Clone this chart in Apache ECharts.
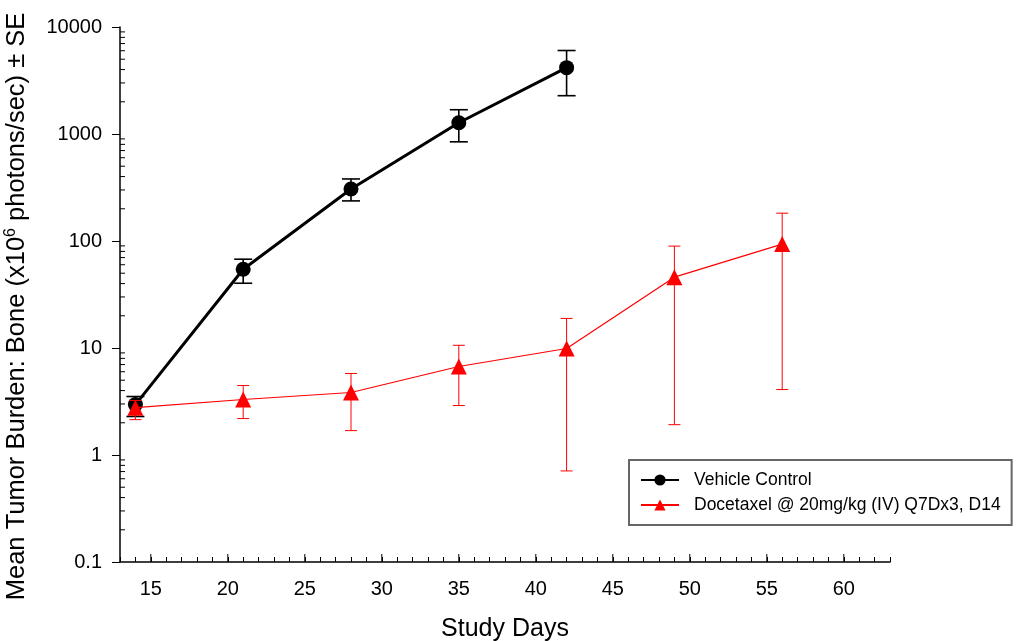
<!DOCTYPE html>
<html>
<head>
<meta charset="utf-8">
<script src="https://cdn.jsdelivr.net/npm/echarts@6/dist/echarts.min.js"></script>
<style>html,body{margin:0;padding:0;background:#fff}#c{width:1024px;height:641px}</style>
</head>
<body>
<div id="c"></div>
<script>
// ---- data ----
const days = [14, 21, 28, 35, 42, 49, 56];
const vehicleMean = [2.96, 54.5, 306, 1273, 4170];
const vehicleLow  = [2.29, 40.3, 237, 845, 2280];
const vehicleHigh = [3.52, 67.6, 380, 1686, 6030];
const doceMean = [2.77, 3.30, 3.84, 6.72, 9.9, 45.9, 93.5];
const doceLow  = [2.14, 2.19, 1.69, 2.90, 0.71, 1.92, 4.09];
const doceHigh = [3.23, 4.46, 5.78, 10.6, 18.9, 89.6, 182];
const yTickLabels = ['0.1', '1', '10', '100', '1000', '10000'];
const xMajorTicks = [15, 20, 25, 30, 35, 40, 45, 50, 55, 60];
const yDecades = [0.1, 1, 10, 100, 1000];
const yMinorMult = [2, 3, 4, 5, 6, 7, 8, 9];
const seriesNames = ['Vehicle Control', 'Docetaxel @ 20mg/kg (IV) Q7Dx3, D14'];

const FONT = '"Liberation Sans", Arial, sans-serif';

function pairs(xs, ys) { return ys.map((v, i) => [xs[i], v]); }
function errData(xs, lo, hi) { return lo.map((v, i) => [xs[i], v, hi[i]]); }

function errRenderer(color, capHalf, lw) {
  return function (params, api) {
    const x = api.value(0);
    const lo = api.coord([x, api.value(1)]);
    const hi = api.coord([x, api.value(2)]);
    const st = { stroke: color, lineWidth: lw };
    return {
      type: 'group',
      children: [
        { type: 'line', shape: { x1: lo[0], y1: lo[1], x2: hi[0], y2: hi[1] }, style: st },
        { type: 'line', shape: { x1: lo[0] - capHalf, y1: lo[1], x2: lo[0] + capHalf, y2: lo[1] }, style: st },
        { type: 'line', shape: { x1: hi[0] - capHalf, y1: hi[1], x2: hi[0] + capHalf, y2: hi[1] }, style: st }
      ]
    };
  };
}

// minor y ticks (log 2..9) drawn inward from the axis
const yMinorVals = [];
yDecades.forEach(d => yMinorMult.forEach(m => yMinorVals.push([13, +(d * m).toPrecision(3)])));
const xMajorVals = xMajorTicks.map(v => [v, 0.1]);

const chart = echarts.init(document.getElementById('c'), null, { renderer: 'canvas' });
chart.setOption({
  animation: false,
  backgroundColor: '#fff',
  grid: { left: 120, top: 27, width: 770, height: 535, containLabel: false, outerBoundsMode: 'none' },
  xAxis: {
    type: 'value', min: 13, max: 63, interval: 1,
    name: 'Study Days', nameLocation: 'middle', nameGap: 55,
    nameTextStyle: { fontFamily: FONT, fontSize: 25, color: '#000' },
    axisLine: { show: true, lineStyle: { color: '#000', width: 1.5 } },
    axisTick: { show: true, inside: true, length: 5, lineStyle: { color: '#000', width: 1 } },
    axisLabel: {
      fontFamily: FONT, fontSize: 20, color: '#000', margin: 17,
      formatter: v => (v % 5 === 0 ? String(v) : '')
    },
    splitLine: { show: false }
  },
  yAxis: {
    type: 'log', logBase: 10, min: 0.1, max: 10000,
    name: 'Mean Tumor Burden: Bone (x10{sup|6} photons/sec) ± SE',
    nameLocation: 'middle', nameGap: 89, nameRotate: 90,
    nameTextStyle: {
      fontFamily: FONT, fontSize: 25.5, color: '#000', padding: [0, 24, 0, 0],
      rich: { sup: { fontFamily: FONT, fontSize: 16, color: '#000', verticalAlign: 'top', padding: [0, 0, 12, 0] } }
    },
    axisLine: { show: true, lineStyle: { color: '#000', width: 1.5 } },
    axisTick: { show: true, inside: false, length: 8, lineStyle: { color: '#000', width: 1 } },
    axisLabel: {
      fontFamily: FONT, fontSize: 20, color: '#000', margin: 18,
      formatter: v => {
        const s = String(+v.toPrecision(3));
        return yTickLabels.indexOf(s) >= 0 ? s : '';
      }
    },
    splitLine: { show: false }
  },
  legend: {
    orient: 'vertical', left: 629, top: 460,
    data: seriesNames,
    itemWidth: 38, itemHeight: 14, itemGap: 7,
    padding: [11, 11, 11, 11],
    borderColor: '#666', borderWidth: 2, borderRadius: 0,
    backgroundColor: '#fff',
    textStyle: { fontFamily: FONT, fontSize: 17.5, color: '#000', padding: [0, 0, 0, 10] }
  },
  series: [
    {
      type: 'custom', name: 'yMinor', silent: true, z: 1,
      renderItem: function (params, api) {
        const p = api.coord([api.value(0), api.value(1)]);
        return { type: 'line', shape: { x1: p[0], y1: p[1], x2: p[0] + 5, y2: p[1] }, style: { stroke: '#000', lineWidth: 1 } };
      },
      data: yMinorVals, encode: { x: 0, y: 1 }, clip: false
    },
    {
      type: 'custom', name: 'xMajor', silent: true, z: 1,
      renderItem: function (params, api) {
        const p = api.coord([api.value(0), api.value(1)]);
        return { type: 'line', shape: { x1: p[0], y1: p[1], x2: p[0], y2: p[1] - 8 }, style: { stroke: '#000', lineWidth: 1 } };
      },
      data: xMajorVals, encode: { x: 0, y: 1 }, clip: false
    },
    {
      type: 'custom', name: 'vehErr', silent: true, z: 2,
      renderItem: errRenderer('#000', 9, 1.6),
      data: errData(days, vehicleLow, vehicleHigh), encode: { x: 0, y: [1, 2] }
    },
    {
      name: seriesNames[0], type: 'line', z: 3,
      data: pairs(days, vehicleMean),
      symbol: 'circle', symbolSize: 15,
      lineStyle: { color: '#000', width: 3 },
      itemStyle: { color: '#000' }
    },
    {
      type: 'custom', name: 'doceErr', silent: true, z: 4,
      renderItem: errRenderer('#ff0000', 6, 1),
      data: errData(days, doceLow, doceHigh), encode: { x: 0, y: [1, 2] }
    },
    {
      name: seriesNames[1], type: 'line', z: 5,
      data: pairs(days, doceMean),
      symbol: 'triangle', symbolSize: 16,
      lineStyle: { color: '#ff0000', width: 1.2 },
      itemStyle: { color: '#ff0000' }
    }
  ]
});
</script>
</body>
</html>
